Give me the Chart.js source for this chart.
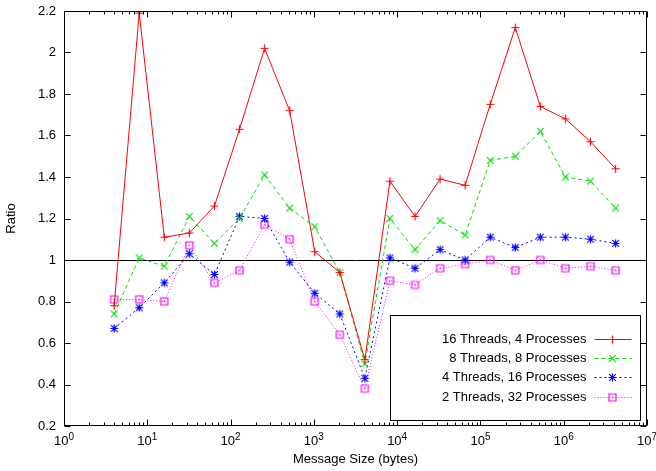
<!DOCTYPE html>
<html lang="en">
<head>
<meta charset="UTF-8">
<title>Ratio vs Message Size</title>
<style>
  html, body { margin: 0; padding: 0; background: #fff; }
  #wrap { width: 656px; height: 471px; }
</style>
</head>
<body>
<div id="wrap">
  <canvas id="grafico" width="656" height="471"></canvas>
</div>

<script src="https://cdn.jsdelivr.net/npm/chart.js"></script>
<script>
// message sizes (bytes) on the log x axis
const sizes = [4, 8, 16, 32, 64, 128, 256, 512, 1024, 2048, 4096, 8192, 16384,
  32768, 65536, 131072, 262144, 524288, 1048576, 2097152, 4194304];

const seriesNames = ["16 Threads, 4 Processes", "8 Threads, 8 Processes",
  "4 Threads, 16 Processes", "2 Threads, 32 Processes"];

const t16p4 = [0.78, 2.19, 1.11, 1.13, 1.26, 1.63, 2.02, 1.72, 1.04, 0.94, 0.52,
  1.38, 1.21, 1.39, 1.36, 1.75, 2.12, 1.74, 1.68, 1.57, 1.44];
const t8p8 = [0.74, 1.01, 0.97, 1.21, 1.08, 1.20, 1.41, 1.25, 1.16, 0.94, 0.50,
  1.20, 1.05, 1.19, 1.12, 1.48, 1.50, 1.62, 1.40, 1.38, 1.25];
const t4p16 = [0.67, 0.77, 0.89, 1.03, 0.93, 1.21, 1.20, 0.99, 0.84, 0.74, 0.43,
  1.01, 0.96, 1.05, 1.00, 1.11, 1.06, 1.11, 1.11, 1.10, 1.08];
const t2p32 = [0.81, 0.81, 0.80, 1.07, 0.89, 0.95, 1.17, 1.10, 0.80, 0.64, 0.38,
  0.90, 0.88, 0.96, 0.98, 1.00, 0.95, 1.00, 0.96, 0.97, 0.95];

const xMajor = [1, 10, 100, 1000, 10000, 100000, 1000000, 10000000];
const yTicks = [0.2, 0.4, 0.6, 0.8, 1, 1.2, 1.4, 1.6, 1.8, 2, 2.2];
const refLine = 1;

const FONT = "'Liberation Sans', Arial, Helvetica, sans-serif";

// marker images, like gnuplot's point types
function marca(tipo, cor){
  const c = document.createElement('canvas');
  c.width = 11; c.height = 11;
  const g = c.getContext('2d');
  g.strokeStyle = cor; g.fillStyle = cor; g.lineWidth = 1.2;
  const m = 5.5;
  g.beginPath();
  if (tipo === 'plus' || tipo === 'star'){
    g.moveTo(m-4, m); g.lineTo(m+4, m);
    g.moveTo(m, m-4); g.lineTo(m, m+4);
  }
  if (tipo === 'x' || tipo === 'star'){
    g.moveTo(m-3.3, m-3.3); g.lineTo(m+3.3, m+3.3);
    g.moveTo(m+3.3, m-3.3); g.lineTo(m-3.3, m+3.3);
  }
  if (tipo === 'box'){
    g.rect(m-3.5, m-3.5, 7, 7);
  }
  g.stroke();
  if (tipo === 'box'){ g.fillRect(m-0.7, m-0.7, 1.4, 1.4); }
  return c;
}

const estilos = [
  {cor: '#ff0000', dash: [], ponto: marca('plus', '#ff0000')},
  {cor: '#00e000', dash: [4, 3], ponto: marca('x', '#00e000')},
  {cor: '#0000ff', dash: [2, 3], ponto: marca('star', '#0000ff')},
  {cor: '#ff00ff', dash: [1, 2], ponto: marca('box', '#ff00ff')}
];

const valores = [t16p4, t8p8, t4p16, t2p32];

const datasets = valores.map((serie, i) => ({
  label: seriesNames[i],
  data: serie.map((v, k) => ({x: sizes[k], y: v})),
  borderColor: estilos[i].cor,
  backgroundColor: estilos[i].cor,
  borderWidth: 1,
  borderDash: estilos[i].dash,
  pointStyle: estilos[i].ponto,
  pointRadius: 4,
  tension: 0,
  fill: false
}));

// frame, inward ticks, 10^n labels, y=1 line and the boxed legend
const gnuplotLook = {
  id: 'gnuplotLook',
  beforeDatasetsDraw(chart){
    const {ctx, chartArea: a, scales} = chart;
    ctx.save();
    ctx.strokeStyle = '#000';
    ctx.lineWidth = 1;
    const yr = Math.round(scales.y.getPixelForValue(refLine)) + 0.5;
    ctx.beginPath();
    ctx.moveTo(a.left, yr); ctx.lineTo(a.right, yr);
    ctx.stroke();
    ctx.restore();
  },
  afterDraw(chart){
    const {ctx, chartArea: a, scales} = chart;
    ctx.save();
    ctx.strokeStyle = '#000';
    ctx.lineWidth = 1;
    const L = Math.round(a.left) + 0.5, R = Math.round(a.right) - 0.5;
    const T = Math.round(a.top) + 0.5, B = Math.round(a.bottom) - 0.5;
    ctx.beginPath();
    ctx.rect(L, T, R - L, B - T);
    // y ticks both sides
    yTicks.forEach(v => {
      const p = Math.round(scales.y.getPixelForValue(v)) + 0.5;
      ctx.moveTo(L, p); ctx.lineTo(L + 6, p);
      ctx.moveTo(R, p); ctx.lineTo(R - 6, p);
    });
    // x ticks, major and minor, bottom and top
    xMajor.forEach((v, i) => {
      const p = Math.round(scales.x.getPixelForValue(v)) + 0.5;
      ctx.moveTo(p, B); ctx.lineTo(p, B - 6);
      ctx.moveTo(p, T); ctx.lineTo(p, T + 6);
      if (i < xMajor.length - 1){
        for (let m = 2; m <= 9; m++){
          const q = Math.round(scales.x.getPixelForValue(v * m)) + 0.5;
          ctx.moveTo(q, B); ctx.lineTo(q, B - 3);
          ctx.moveTo(q, T); ctx.lineTo(q, T + 3);
        }
      }
    });
    ctx.stroke();

    // x tick labels as 10 with a raised exponent
    ctx.fillStyle = '#000';
    ctx.textBaseline = 'alphabetic';
    ctx.textAlign = 'left';
    xMajor.forEach(v => {
      const p = scales.x.getPixelForValue(v);
      const base = '10', ex = String(Math.round(Math.log10(v)));
      ctx.font = '13px ' + FONT;
      const wb = ctx.measureText(base).width;
      ctx.font = '10px ' + FONT;
      const we = ctx.measureText(ex).width;
      const x0 = p - (wb + we) / 2;
      ctx.font = '13px ' + FONT;
      ctx.fillText(base, x0, a.bottom + 19);
      ctx.font = '10px ' + FONT;
      ctx.fillText(ex, x0 + wb, a.bottom + 14);
    });

    // legend box
    const bw = 250, bh = 105;
    const bx = Math.round(a.right - 7 - bw) + 0.5;
    const by = Math.round(a.bottom - 6 - bh) + 0.5;
    ctx.fillStyle = '#fff';
    ctx.fillRect(bx, by, bw, bh);
    ctx.strokeRect(bx, by, bw, bh);
    ctx.font = '13px ' + FONT;
    ctx.textAlign = 'right';
    ctx.textBaseline = 'middle';
    chart.data.datasets.forEach((ds, i) => {
      const y = Math.round(by + 23 + i * 19.4) + 0.5;
      ctx.fillStyle = '#000';
      ctx.fillText(ds.label, bx + 196, y);
      ctx.save();
      ctx.strokeStyle = ds.borderColor;
      ctx.setLineDash(ds.borderDash);
      ctx.beginPath();
      ctx.moveTo(bx + 204, y); ctx.lineTo(bx + 241, y);
      ctx.stroke();
      ctx.restore();
      const img = ds.pointStyle;
      ctx.drawImage(img, Math.round(bx + 222 - img.width / 2), Math.round(y - img.height / 2));
    });
    ctx.restore();
  }
};

const ctx = document.getElementById('grafico');

new Chart(ctx, {
  type: 'line',
  data: { datasets: datasets },
  options: {
    responsive: false,
    animation: false,
    devicePixelRatio: 1,
    layout: { padding: { top: 11, right: 9, left: 0, bottom: 0 } },
    plugins: {
      legend: { display: false },
      tooltip: { enabled: false }
    },
    scales: {
      x: {
        type: 'logarithmic',
        min: 1,
        max: 10000000,
        grid: { display: false, drawTicks: false },
        border: { display: false },
        afterBuildTicks: s => { s.ticks = xMajor.map(v => ({value: v})); },
        afterFit: s => { s.height = 45; s.paddingLeft = 0; s.paddingRight = 0; },
        ticks: { display: false },
        title: {
          display: true,
          text: 'Message Size (bytes)',
          color: '#000',
          font: { family: FONT, size: 13 },
          padding: { top: 0, bottom: 4 }
        }
      },
      y: {
        min: 0.2,
        max: 2.2,
        grid: { display: false, drawTicks: false },
        border: { display: false },
        afterBuildTicks: s => { s.ticks = yTicks.map(v => ({value: v})); },
        afterFit: s => { s.width = 64; s.paddingTop = 0; s.paddingBottom = 0; },
        ticks: {
          color: '#000',
          font: { family: FONT, size: 13 },
          padding: 8,
          callback: v => String(+Number(v).toFixed(1))
        },
        title: {
          display: true,
          text: 'Ratio',
          color: '#000',
          font: { family: FONT, size: 13 },
          padding: { top: 4, bottom: 0 }
        }
      }
    }
  },
  plugins: [gnuplotLook]
});
</script>
</body>
</html>
